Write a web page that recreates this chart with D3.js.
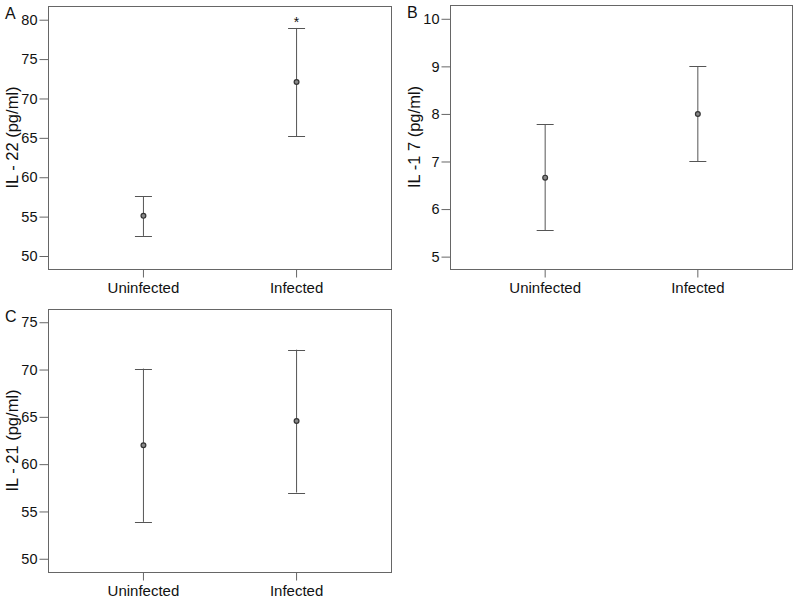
<!DOCTYPE html>
<html>
<head>
<meta charset="utf-8">
<script src="https://cdn.jsdelivr.net/npm/d3@7"></script>
<style>
  body { margin: 0; background: #fff; }
  svg { font-family: "Liberation Sans", Arial, sans-serif; }
</style>
</head>
<body>
<div id="chart"></div>
<script>
var width = 800
var height = 603

// groups on the x axis
var groups = ['Uninfected', 'Infected']

// IL-22 (panel A)
var il22Mean = [55.1, 72.1]
var il22Low = [52.55, 65.2]
var il22High = [57.6, 78.95]
var il22Ticks = [50, 55, 60, 65, 70, 75, 80]

// IL-17 (panel B)
var il17Mean = [6.66, 8.0]
var il17Low = [5.56, 7.0]
var il17High = [7.78, 9.0]
var il17Ticks = [5, 6, 7, 8, 9, 10]

// IL-21 (panel C)
var il21Mean = [62.0, 64.56]
var il21Low = [53.9, 57.0]
var il21High = [70.1, 72.1]
var il21Ticks = [50, 55, 60, 65, 70, 75]

var svg = d3.select('#chart').append('svg')
    .attr('width', width)
    .attr('height', height)

var panels = [
    { letter: 'A', title: 'IL - 22 (pg/ml)', mean: il22Mean, low: il22Low, high: il22High,
      ticks: il22Ticks, domain: [48.35, 81.74], x0: 48, x1: 391, y0: 6, y1: 269, star: [false, true] },
    { letter: 'B', title: 'IL -1 7 (pg/ml)', mean: il17Mean, low: il17Low, high: il17High,
      ticks: il17Ticks, domain: [4.74, 10.29], x0: 450, x1: 792, y0: 5, y1: 269, star: [false, false] },
    { letter: 'C', title: 'IL - 21 (pg/ml)', mean: il21Mean, low: il21Low, high: il21High,
      ticks: il21Ticks, domain: [48.6, 76.4], x0: 48, x1: 391, y0: 309, y1: 572, star: [false, false] }
]

var lineColor = '#555'
var frameColor = '#666'
var textColor = '#111'

panels.forEach(function (p) {
    var g = svg.append('g')

    var x = d3.scalePoint().domain(groups).range([p.x0, p.x1]).padding(0.62)
    var y = d3.scaleLinear().domain(p.domain).range([p.y1, p.y0])

    // frame
    g.append('rect')
        .attr('x', p.x0 + 0.5).attr('y', p.y0 + 0.5)
        .attr('width', p.x1 - p.x0).attr('height', p.y1 - p.y0)
        .attr('fill', 'none').attr('stroke', frameColor)

    var yAxis = g.append('g')
        .attr('transform', 'translate(' + (p.x0 + 0.5) + ',0)')
        .call(d3.axisLeft(y).tickValues(p.ticks).tickFormat(d3.format('d'))
            .tickSize(9).tickPadding(2).tickSizeOuter(0))
    yAxis.select('.domain').remove()
    yAxis.selectAll('line').attr('stroke', frameColor)
    yAxis.selectAll('text').attr('font-size', 14.5).attr('fill', textColor)
        .attr('font-family', '"Liberation Sans", Arial, sans-serif')

    var xAxis = g.append('g')
        .attr('transform', 'translate(0,' + (p.y1 + 0.5) + ')')
        .call(d3.axisBottom(x).tickSize(8).tickPadding(5).tickSizeOuter(0))
    xAxis.select('.domain').remove()
    xAxis.selectAll('line').attr('stroke', frameColor)
    xAxis.selectAll('text').attr('font-size', 15).attr('fill', textColor)
        .attr('font-family', '"Liberation Sans", Arial, sans-serif')

    // axis title
    g.append('text')
        .attr('transform', 'translate(' + (p.x0 - 30) + ',' + ((p.y0 + p.y1) / 2) + ') rotate(-90)')
        .attr('text-anchor', 'middle')
        .attr('font-size', 16.5)
        .attr('fill', textColor)
        .text(p.title)

    // panel letter
    g.append('text')
        .attr('x', p.x0 - 43).attr('y', p.y0 + 13)
        .attr('font-size', 16)
        .attr('fill', textColor)
        .text(p.letter)

    // error bars
    var bars = g.selectAll('.bar')
        .data(groups)
        .enter().append('g')
        .attr('class', 'bar')

    bars.append('line')
        .attr('x1', function (d) { return x(d) + 0.5 })
        .attr('x2', function (d) { return x(d) + 0.5 })
        .attr('y1', function (d, i) { return y(p.low[i]) })
        .attr('y2', function (d, i) { return y(p.high[i]) })
        .attr('stroke', lineColor)
    bars.append('line')
        .attr('x1', function (d) { return x(d) - 8 })
        .attr('x2', function (d) { return x(d) + 9 })
        .attr('y1', function (d, i) { return Math.round(y(p.high[i])) + 0.5 })
        .attr('y2', function (d, i) { return Math.round(y(p.high[i])) + 0.5 })
        .attr('stroke', lineColor)
    bars.append('line')
        .attr('x1', function (d) { return x(d) - 8 })
        .attr('x2', function (d) { return x(d) + 9 })
        .attr('y1', function (d, i) { return Math.round(y(p.low[i])) + 0.5 })
        .attr('y2', function (d, i) { return Math.round(y(p.low[i])) + 0.5 })
        .attr('stroke', lineColor)
    bars.append('circle')
        .attr('cx', function (d) { return x(d) + 0.5 })
        .attr('cy', function (d, i) { return y(p.mean[i]) })
        .attr('r', 2.4)
        .attr('fill', '#888')
        .attr('stroke', '#333')
        .attr('stroke-width', 1.2)

    bars.filter(function (d, i) { return p.star[i] })
        .append('text')
        .attr('x', function (d) { return x(d) + 0.5 })
        .attr('y', function (d, i) { return y(p.high[1]) - 1 })
        .attr('text-anchor', 'middle')
        .attr('font-size', 14)
        .attr('fill', textColor)
        .text('*')
})
</script>
</body>
</html>
